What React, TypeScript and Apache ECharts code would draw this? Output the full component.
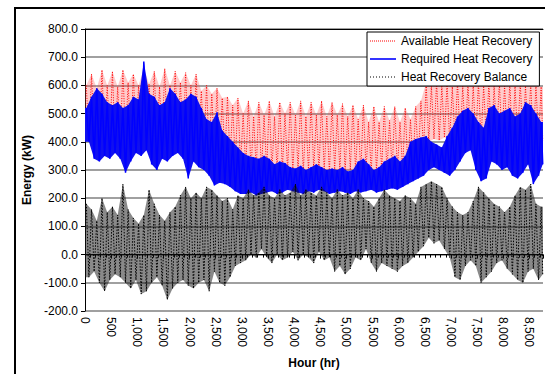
import React, { useEffect, useRef } from "react";
import * as echarts from "echarts";

// Each series is summarised per 100-hour block by the top and bottom of its band (kW).
const BLOCK_HOURS = 100;
const HOURS_IN_YEAR = 8760;

const availableHigh = [
  600, 640, 590, 655, 600, 650, 595, 655, 610, 640, 600, 660, 605, 650, 595, 660, 600, 650, 610, 645,
  600, 640, 580, 600, 570, 590, 555, 560, 530, 555,
  500, 545, 490, 540, 495, 545, 490, 540, 500, 540, 495, 545, 490, 540, 495, 545, 490, 540, 495, 535,
  490, 530, 480, 530, 470, 525, 470, 525, 475, 525, 470, 520, 480, 525,
  545, 610, 600, 615, 600, 610, 595, 612, 598, 610, 600, 612, 598, 610, 600, 612, 598, 610, 600, 612,
  598, 608, 600, 595,
];
const availableLow = [
  410, 400, 415, 405, 410, 395, 405, 410, 400, 415, 405, 400, 410, 405, 400, 410, 405, 415, 400, 405,
  395, 390, 380, 370, 360, 350, 340, 335, 325, 315,
  305, 295, 300, 290, 298, 295, 290, 300, 295, 292, 298, 290, 295, 300, 292, 295, 290, 298, 295, 290,
  300, 295, 292, 298, 290, 295, 300, 292, 295, 298, 300, 305, 310, 330,
  370, 400, 410, 405, 415, 400, 410, 405, 415, 400, 410, 405, 410, 400, 415, 405, 410, 400, 410, 405,
  415, 400, 410, 405,
];
const requiredHigh = [
  520, 560, 590, 570, 540, 530, 540, 520, 530, 560, 550, 685, 570, 560, 530, 540, 590, 570, 540, 550,
  570, 560, 520, 480, 470, 505, 440, 420, 400, 380, 360, 350, 345, 340, 350, 340, 320, 330, 325, 310,
  305, 315, 300, 310, 320, 310, 300, 305, 300, 310, 295, 300, 330, 340, 320, 300, 310, 330, 340, 350,
  330, 350, 400, 410, 415, 420, 400, 390, 380, 420, 450, 490, 510, 520, 500, 470, 450, 520, 530, 500,
  510, 520, 490, 500, 540, 530, 500, 470,
];
const requiredLow = [
  400, 340, 330, 350, 340, 360, 340, 290, 330, 360, 350, 370, 320, 300, 340, 330, 350, 360, 340, 270,
  330, 310, 300, 280, 245, 255, 250, 240, 225, 215, 215, 220, 210, 215, 220, 225, 215, 220, 230, 225,
  220, 215, 225, 220, 230, 225, 215, 220, 225, 220, 215, 225, 220, 225, 230, 220, 225, 230, 235, 230,
  240, 250, 260, 270, 280, 300, 310, 300, 290, 280, 300, 330, 360, 370, 300, 260, 270, 330, 320, 300,
  310, 280, 270, 290, 320, 250, 280, 320,
];
const balanceHigh = [
  180, 160, 120, 200, 150, 170, 140, 250, 160, 130, 110, 140, 230, 180, 140, 120, 150, 170, 210, 240,
  200, 220, 200, 240, 230, 210, 190, 200, 160, 210, 200, 230, 210, 220, 240, 210, 200, 230, 210, 220,
  250, 210, 230, 220, 210, 240, 220, 200, 230, 210, 220, 200, 230, 200, 190, 170, 200, 230, 210, 200,
  190, 210, 200, 180, 240, 250, 260, 250, 240, 200, 170, 150, 140, 150, 190, 240, 220, 200, 180, 170,
  150, 170, 210, 240, 230, 250, 180, 170,
];
const balanceLow = [
  -80, -60, -100, -130, -90, -70, -80, -100, -120, -90, -140, -130, -100, -80, -110, -160, -120, -100, -90, -110,
  -120, -100, -90, -130, -60, -100, -110, -80, -40, -30, -20, 0, -10, 20, -10, -30, 0, -20, -10, 10,
  -20, 0, -10, -30, 10, -20, -10, -60, -40, -70, -50, -10, -20, 20, -30, -60, -30, -40, -50, -60,
  -40, -30, -10, 10, 30, 60, 40, 50, 20, -10, -80, -90, -40, -20, -40, -100, -80, -60, -30, -20,
  -50, -70, -90, -100, -60, -50, -90, -70,
];

const seriesNames = ["Available Heat Recovery", "Required Heat Recovery", "Heat Recovery Balance"];
const yTickLabels = [-200, -100, 0, 100, 200, 300, 400, 500, 600, 700, 800];

const hiHour = (b: number) => Math.min(b * BLOCK_HOURS + 25, HOURS_IN_YEAR - 30);
const loHour = (b: number) => Math.min(b * BLOCK_HOURS + 75, HOURS_IN_YEAR - 5);

function zigzag(high: number[], low: number[]): [number, number][] {
  const out: [number, number][] = [];
  for (let b = 0; b < high.length; b++) {
    out.push([hiHour(b), high[b]]);
    out.push([loHour(b), low[b]]);
  }
  return out;
}

function bandSeries(high: number[], low: number[], fill: string, z: number) {
  return {
    type: "custom",
    silent: true,
    z,
    xAxisIndex: 0,
    yAxisIndex: 0,
    data: [[0, 0]],
    renderItem: (_params: any, api: any) => {
      const pts: number[][] = [];
      pts.push(api.coord([0, high[0]]));
      for (let b = 0; b < high.length; b++) pts.push(api.coord([hiHour(b), high[b]]));
      pts.push(api.coord([HOURS_IN_YEAR, high[high.length - 1]]));
      pts.push(api.coord([HOURS_IN_YEAR, low[low.length - 1]]));
      for (let b = low.length - 1; b >= 0; b--) pts.push(api.coord([loHour(b), low[b]]));
      pts.push(api.coord([0, low[0]]));
      return { type: "polygon", shape: { points: pts }, style: { fill, stroke: "none" } };
    },
  };
}

const dots = (step: number) => {
  let d = "path://M0,0M26,12";
  for (let x = 0; x < 26; x += step) d += `M${x},5.4h1v1.2h-1z`;
  return d;
};
const solidIcon = "path://M0,0M26,12M0,5.2h26v1.6h-26z";

const FONT = "'Liberation Sans', Arial, sans-serif";

export default function App() {
  const ref = useRef<HTMLDivElement>(null);
  useEffect(() => {
    if (!ref.current) return;
    const chart = echarts.init(ref.current, null, { renderer: "svg" });
    chart.setOption({
      animation: false,
      backgroundColor: "#ffffff",
      textStyle: { fontFamily: FONT, color: "#000" },
      graphic: [
        {
          type: "rect",
          silent: true,
          z: 100,
          shape: { x: 15, y: 8, width: 700, height: 500 },
          style: { fill: "none", stroke: "#000", lineWidth: 2 },
        },
      ],
      grid: { left: 85, top: 29, right: 2, bottom: 61, containLabel: false },
      legend: {
        orient: "vertical",
        left: 367,
        top: 32,
        padding: [3, 7, 3, 3],
        itemGap: 6,
        itemWidth: 26,
        itemHeight: 12,
        backgroundColor: "#ffffff",
        borderColor: "#000",
        borderWidth: 1,
        borderRadius: 0,
        itemStyle: { borderWidth: 0 },
        textStyle: { fontFamily: FONT, fontSize: 12, color: "#000" },
        data: [
          { name: seriesNames[0], icon: dots(2) },
          { name: seriesNames[1], icon: solidIcon },
          { name: seriesNames[2], icon: dots(3) },
        ],
      },
      xAxis: [
        {
          type: "value",
          min: 0,
          max: HOURS_IN_YEAR,
          interval: 500,
          position: "bottom",
          name: "Hour (hr)",
          nameLocation: "middle",
          nameGap: 46,
          nameTextStyle: { fontFamily: FONT, fontSize: 12, fontWeight: "bold", color: "#000" },
          axisLine: { show: true, lineStyle: { color: "#000", width: 1 } },
          axisTick: { show: true, length: 4, lineStyle: { color: "#000" } },
          minorTick: { show: true, splitNumber: 5, length: 3, lineStyle: { color: "#000" } },
          splitLine: { show: false },
          axisLabel: {
            rotate: -90,
            margin: 6,
            fontSize: 12,
            fontFamily: FONT,
            color: "#000",
            showMaxLabel: false,
            formatter: (v: number) => (v % 500 === 0 ? v.toLocaleString("en-US") : ""),
          },
        },
        {
          type: "value",
          min: 0,
          max: HOURS_IN_YEAR,
          position: "top",
          axisLine: { show: true, lineStyle: { color: "#000", width: 1 } },
          axisTick: { show: false },
          axisLabel: { show: false },
          splitLine: { show: false },
        },
      ],
      yAxis: {
        type: "value",
        min: yTickLabels[0],
        max: yTickLabels[yTickLabels.length - 1],
        interval: 100,
        name: "Energy (kW)",
        nameLocation: "middle",
        nameGap: 50,
        nameTextStyle: { fontFamily: FONT, fontSize: 12, fontWeight: "bold", color: "#000" },
        axisLine: { show: true, lineStyle: { color: "#000", width: 1 } },
        axisTick: { show: true, length: 4, lineStyle: { color: "#000" } },
        splitLine: { show: true, lineStyle: { color: "#808080", width: 1.5 } },
        axisLabel: {
          margin: 7,
          fontSize: 12,
          fontFamily: FONT,
          color: "#000",
          formatter: (v: number) => v.toFixed(1),
        },
      },
      series: [
        bandSeries(availableHigh, availableLow, "rgba(255,70,70,0.28)", 1),
        {
          name: seriesNames[0],
          type: "line",
          symbol: "none",
          z: 2,
          color: "#ff0000",
          lineStyle: { color: "#ff0000", width: 1, type: [1, 1.5] },
          data: zigzag(availableHigh, availableLow),
        },
        bandSeries(requiredHigh, requiredLow, "#1010f0", 3),
        {
          name: seriesNames[1],
          type: "line",
          symbol: "none",
          z: 4,
          color: "#0000ff",
          lineStyle: { color: "#0000ff", width: 1.5, type: "solid" },
          data: zigzag(requiredHigh, requiredLow),
        },
        bandSeries(balanceHigh, balanceLow, "rgba(20,20,20,0.5)", 5),
        {
          name: seriesNames[2],
          type: "line",
          symbol: "none",
          z: 6,
          color: "#000000",
          lineStyle: { color: "#000000", width: 1, type: [1.5, 1.5] },
          data: zigzag(balanceHigh, balanceLow),
        },
      ],
    });
    return () => chart.dispose();
  }, []);
  return (
    <div
      ref={ref}
      style={{ position: "absolute", left: 0, top: 0, width: 545, height: 374, background: "#fff" }}
    />
  );
}
